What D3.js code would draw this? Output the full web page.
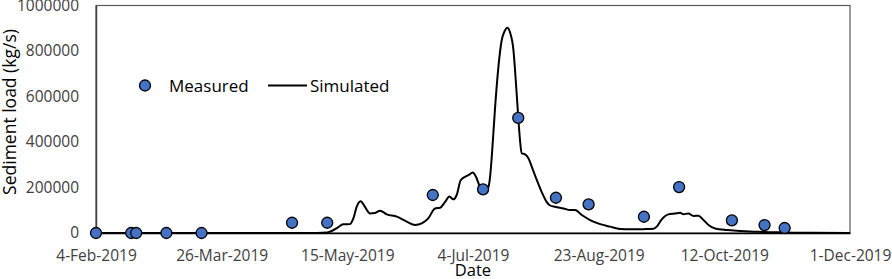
<!DOCTYPE html>
<html><head><meta charset="utf-8">
<script src="https://cdn.jsdelivr.net/npm/d3@7"></script>
<style>
body{margin:0;background:#fff;}
svg{display:block;font-family:"Open Sans",sans-serif;}
</style></head><body>
<svg id="chart" width="892" height="279"></svg>
<script>
// ---- data ----
const startDate = "2019-02-04";
const endDate = "2019-12-01";
const tickDates = ["2019-02-04","2019-03-26","2019-05-15","2019-07-04","2019-08-23","2019-10-12","2019-12-01"];
const yTicks = [0,200000,400000,600000,800000,1000000];
const measuredDates = ["2019-02-04","2019-02-18","2019-02-20","2019-03-04","2019-03-18","2019-04-23","2019-05-07","2019-06-18","2019-07-08","2019-07-22","2019-08-06","2019-08-19","2019-09-10","2019-09-24","2019-10-15","2019-10-28","2019-11-05"];
const measuredValues = [0,0,0,0,0,45000,45000,167000,192000,506000,155000,126000,71500,202000,55700,35000,22000];
// simulated: days after 4-Feb-2019
const simDays = [0,88,92,94,96,98.4,101,102.4,103.7,105.3,107,109,111,113,115.7,119.7,123.6,127,129.6,132.2,134.9,136.9,138.9,140.6,142.2,143.5,145.1,146.8,148.2,149.9,151.2,152.5,154.1,155.7,156.8,157.5,158.8,160.1,161.4,162.7,163.7,164.7,166.1,167.1,168,168.7,169.4,170.7,172,173.4,175.4,177.3,179.3,180.5,182.7,186,188.6,190.6,193.3,196.6,200.6,204.5,208.5,212.5,218,221.8,223.1,225.1,227.7,230.4,232.4,233.7,235.7,237.7,239.7,241.7,243.7,246.3,251,256.3,263,272,279,300];
const simValues = [0,0,2000,10000,23000,38000,39000,64000,115000,140000,115000,86000,88000,98000,82000,72000,50000,35000,42000,64000,108000,111000,137000,160000,148000,167000,232000,247000,254000,266000,247000,210000,178000,189000,247000,340000,554000,729000,846000,890000,902000,883000,803000,657000,510000,408000,350000,346000,330000,291000,232000,181000,137000,122000,115000,108000,101000,101000,79000,57000,39000,28000,17500,16000,17000,19000,28000,60000,82000,86000,89000,82000,86000,75000,76000,57000,35000,20000,13000,9000,5000,3000,1000,0];

// ---- chart ----
const parse = d3.utcParse("%Y-%m-%d");
const svg = d3.select("#chart");
const x = d3.scaleUtc().domain([parse(startDate), parse(endDate)]).range([96, 850]);
const y = d3.scaleLinear().domain([0, 1000000]).range([233, 5.5]);
const t0 = parse(startDate).getTime();

// frame
svg.append("rect").attr("x",96).attr("y",5.5).attr("width",754).attr("height",227.5)
  .attr("fill","none").attr("stroke","#595959").attr("stroke-width",1.2);

// axes
const fmt = d3.utcFormat("%-d-%b-%Y");
const xAxis = svg.append("g").attr("transform","translate(0,233)")
  .call(d3.axisBottom(x).tickValues(tickDates.map(parse)).tickFormat(fmt).tickSize(0).tickPadding(17));
xAxis.select(".domain").attr("stroke","#000").attr("stroke-width",1.5);
xAxis.selectAll("text").attr("font-size","15.5px").attr("fill","#404040").attr("font-family","Open Sans");

const yAxis = svg.append("g").attr("transform","translate(96,0)")
  .call(d3.axisLeft(y).tickValues(yTicks).tickFormat(d3.format("d")).tickSize(0).tickPadding(17));
yAxis.select(".domain").attr("stroke","#404040").attr("stroke-width",1.5);
yAxis.selectAll("text").attr("font-size","15.5px").attr("fill","#404040").attr("font-family","Open Sans");

// titles
svg.append("text").attr("x",473).attr("y",276).attr("text-anchor","middle")
  .attr("font-size","16.5px").attr("fill","#000").text("Date");
svg.append("text").attr("transform","translate(16,112) rotate(-90)").attr("text-anchor","middle")
  .attr("font-size","17.5px").attr("fill","#000").text("Sediment load (kg/s)");

// simulated line
const simData = simDays.map((d,i)=>({date:new Date(t0 + d*86400000), v:simValues[i]}));
svg.append("path").datum(simData)
  .attr("fill","none").attr("stroke","#000").attr("stroke-width",2)
  .attr("d", d3.line().x(d=>x(d.date)).y(d=>y(d.v)).curve(d3.curveMonotoneX));

// measured points
const measData = measuredDates.map((d,i)=>({date:parse(d), v:measuredValues[i]}));
svg.append("g").selectAll("circle").data(measData).join("circle")
  .attr("cx",d=>x(d.date)).attr("cy",d=>y(d.v)).attr("r",5.5)
  .attr("fill","#4472C4").attr("stroke","#000").attr("stroke-width",1.3);

// legend
const lg = svg.append("g");
lg.append("circle").attr("cx",145).attr("cy",85.5).attr("r",5.5)
  .attr("fill","#4472C4").attr("stroke","#000").attr("stroke-width",1.3);
lg.append("text").attr("x",169).attr("y",91.5).attr("font-size","17px").attr("fill","#000").text("Measured");
lg.append("line").attr("x1",268).attr("x2",307).attr("y1",85.5).attr("y2",85.5)
  .attr("stroke","#000").attr("stroke-width",2);
lg.append("text").attr("x",310).attr("y",91.5).attr("font-size","17px").attr("fill","#000").text("Simulated");
</script>
</body></html>
